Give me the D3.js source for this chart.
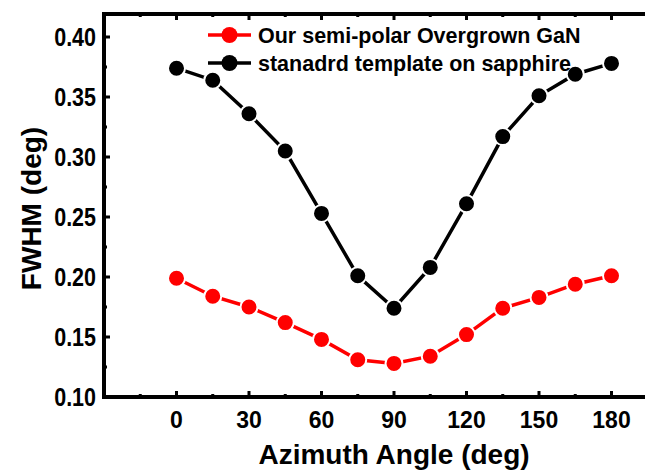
<!DOCTYPE html>
<html><head><meta charset="utf-8">
<script src="https://cdn.jsdelivr.net/npm/d3@7"></script>
<style>body{margin:0;background:#fff}svg{display:block}text{font-family:Arial,"Liberation Sans",sans-serif;font-weight:bold}</style>
</head><body><svg id="c" width="645" height="470"></svg>
<script>
const angles = [0,15,30,45,60,75,90,105,120,135,150,165,180];
const overgrown = [0.199,0.184,0.175,0.162,0.148,0.131,0.128,0.134,0.152,0.174,0.183,0.194,0.201];
const template = [0.374,0.364,0.336,0.305,0.253,0.201,0.174,0.208,0.261,0.317,0.351,0.369,0.378];
const xTicks = [0,30,60,90,120,150,180];
const yTicks = [0.10,0.15,0.20,0.25,0.30,0.35,0.40];
const seriesNames = ["Our semi-polar Overgrown GaN","stanadrd template on sapphire"];
const seriesColors = ["#ff0000","#000000"];

const svg = d3.select("#c");
const L=104, T=14, B=397;
const x = d3.scaleLinear().domain([-30,210]).range([L, L+580]);
const y = d3.scaleLinear().domain([0.10,0.42]).range([B, B-384]);
const R = x(210);

// lines & markers
[overgrown, template].forEach((vals,i)=>{
  const pts = angles.map((a,j)=>[a,vals[j]]);
  svg.append("path").datum(pts)
    .attr("d", d3.line().x(d=>x(d[0])).y(d=>y(d[1])))
    .attr("fill","none").attr("stroke",seriesColors[i]).attr("stroke-width",3.5);
  svg.selectAll(null).data(pts).enter().append("circle")
    .attr("cx",d=>x(d[0])).attr("cy",d=>y(d[1])).attr("r",8.5)
    .attr("fill",seriesColors[i]).attr("stroke","#fff").attr("stroke-width",2);
});

// ticks (inward)
const g = svg.append("g").attr("stroke","#000");
d3.range(-15,210,15).forEach(v=>{
  const len = (v%30===0)?6:3;
  g.append("line").attr("x1",x(v)).attr("x2",x(v)).attr("y1",B).attr("y2",B-len).attr("stroke-width",3);
  g.append("line").attr("x1",x(v)).attr("x2",x(v)).attr("y1",T).attr("y2",T+len).attr("stroke-width",3);
});
d3.range(0.10,0.4201,0.025).forEach(v=>{
  const major = Math.abs(Math.round(v*1000)%50)===0;
  const len = major?6:3;
  g.append("line").attr("x1",L).attr("x2",L+len).attr("y1",y(v)).attr("y2",y(v)).attr("stroke-width",3);
});

// frame
svg.append("rect").attr("x",L).attr("y",T).attr("width",R-L).attr("height",B-T)
  .attr("fill","none").attr("stroke","#000").attr("stroke-width",4);

// tick labels
svg.selectAll(null).data(xTicks).enter().append("text")
  .attr("x",d=>x(d)).attr("y",428).attr("text-anchor","middle")
  .attr("font-size",23).text(d=>d);
svg.selectAll(null).data(yTicks).enter().append("text")
  .attr("transform",d=>`translate(96,${y(d)+9}) scale(0.86,1)`).attr("text-anchor","end")
  .attr("font-size",25).text(d=>d.toFixed(2));

// axis titles
svg.append("text").attr("x",x(90)).attr("y",464).attr("text-anchor","middle")
  .attr("font-size",28).text("Azimuth Angle (deg)");
svg.append("text").attr("transform",`translate(41,${(T+B)/2+3}) rotate(-90)`).attr("text-anchor","middle")
  .attr("font-size",28).text("FWHM (deg)");

// legend
seriesNames.forEach((n,i)=>{
  const ly = 35 + i*28;
  svg.append("line").attr("x1",208).attr("x2",251).attr("y1",ly).attr("y2",ly)
    .attr("stroke",seriesColors[i]).attr("stroke-width",3.5);
  svg.append("circle").attr("cx",229.5).attr("cy",ly).attr("r",8).attr("fill",seriesColors[i]);
  svg.append("text").attr("x",258).attr("y",ly+7.5).attr("font-size",21.5).text(n);
});
</script></body></html>
